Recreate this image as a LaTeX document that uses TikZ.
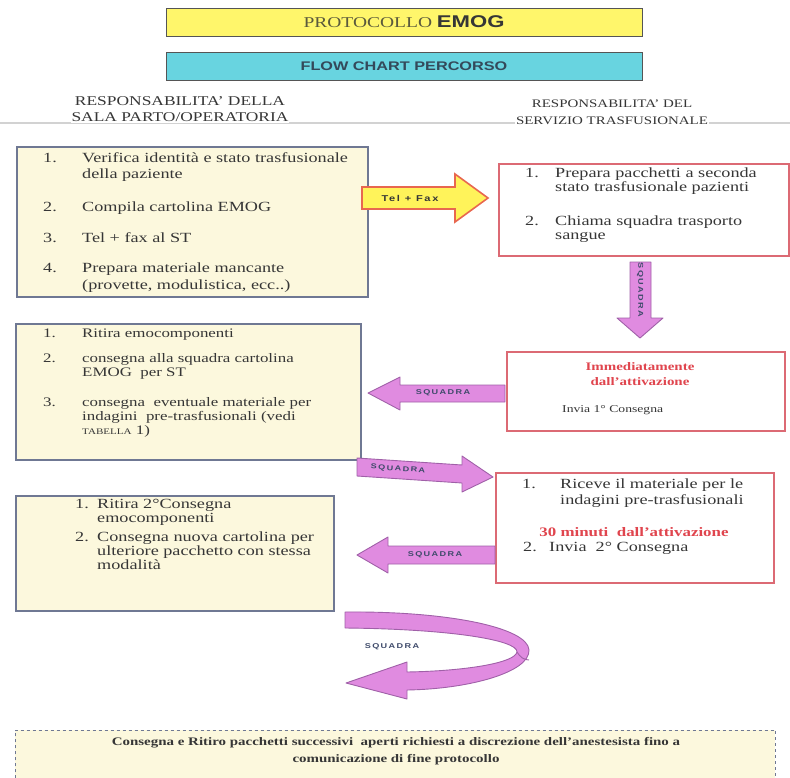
\documentclass[tikz,border=0pt]{standalone}
\usepackage{fontspec}
\setmainfont[FakeStretch=1.3]{Liberation Serif}
\newfontfamily\sansf[FakeStretch=1.3]{Liberation Sans}
\newfontfamily\sqfont[FakeStretch=1.3,LetterSpace=20]{Liberation Sans}
\usetikzlibrary{calc}
\definecolor{ttlyellow}{HTML}{FFF66B}
\definecolor{ttlcyan}{HTML}{68D4E0}
\definecolor{ttlborder}{HTML}{555555}
\definecolor{boxfill}{HTML}{FCF8DD}
\definecolor{lborder}{HTML}{6F7893}
\definecolor{rborder}{HTML}{DC6A74}
\definecolor{redtxt}{HTML}{E0454E}
\definecolor{pinkfill}{HTML}{E08BE0}
\definecolor{pinkdraw}{HTML}{A060A8}
\definecolor{arrowtxt}{HTML}{3E4A6A}
\definecolor{telfill}{HTML}{FFF35A}
\definecolor{teldraw}{HTML}{E8674F}
\definecolor{txtgray}{HTML}{363636}
\definecolor{olivetxt}{HTML}{5B5A3C}
\definecolor{flowtxt}{HTML}{34495A}
\begin{document}
\begin{tikzpicture}[x=1pt,y=-1pt,
  ttlbox/.style={draw=ttlborder, line width=1.2pt, anchor=north west, inner sep=0pt},
  lbox/.style={draw=lborder, line width=1.5pt, fill=boxfill, anchor=north west, inner sep=0pt},
  rbox/.style={draw=rborder, line width=1.5pt, fill=white, anchor=north west, inner sep=0pt},
  tx/.style={anchor=base west, inner sep=0pt, text=txtgray, font=\fontsize{14}{16}\selectfont},
  txl/.style={tx, font=\fontsize{13}{15}\selectfont},
  txs/.style={tx, font=\fontsize{10.5}{12}\selectfont},
  hdr/.style={align=center, inner sep=1pt, fill=white, text=txtgray},
  pinkarrow/.style={fill=pinkfill, draw=pinkdraw, line width=0.9pt, line join=round},
  telarrow/.style={fill=telfill, draw=teldraw, line width=1.6pt, line join=miter},
  sq/.style={inner sep=0pt, text=arrowtxt, font=\sqfont\bfseries\fontsize{7}{8}\selectfont}
]
\useasboundingbox (0,0) rectangle (790,777);

% titles
\node[ttlbox, fill=ttlyellow, minimum width=476pt, minimum height=28pt] (T1) at (166,8) {};
\node[inner sep=0pt, font=\fontsize{15}{16}\selectfont] (T1t) at (404,22)
  {\textcolor{olivetxt}{PROTOCOLLO} \textcolor{txtgray}{\sansf\bfseries\fontsize{17}{18}\selectfont EMOG}};
\node[ttlbox, fill=ttlcyan, minimum width=476pt, minimum height=28pt] (T2) at (166,52) {};
\node[inner sep=0pt, text=flowtxt, font=\sansf\bfseries\fontsize{12.5}{14}\selectfont] (T2t) at (404,66) {FLOW CHART PERCORSO};

% header line and headers
\coordinate (hl0) at (0,123);
\coordinate (hl1) at (790,123);
\draw[gray!35, line width=1.5pt] (hl0) -- (hl1);
\node[hdr, font=\fontsize{13.4}{16}\selectfont] (H1) at (180,109) {RESPONSABILITA' DELLA\\SALA PARTO/OPERATORIA};
\node[hdr, font=\fontsize{11.5}{17}\selectfont] (H2) at (612,112) {RESPONSABILITA' DEL\\SERVIZIO TRASFUSIONALE};

% boxes
\node[lbox, minimum width=351pt, minimum height=150pt] (L1) at (16,146) {};
\node[rbox, minimum width=290pt, minimum height=92pt] (R1) at (498,163) {};
\node[lbox, minimum width=345pt, minimum height=136pt] (L2) at (15,323) {};
\node[rbox, minimum width=278pt, minimum height=79pt] (R2) at (506,351) {};
\node[rbox, minimum width=278pt, minimum height=110pt] (R3) at (495,472) {};
\node[lbox, minimum width=318pt, minimum height=115pt] (L3) at (15,495) {};

% L1 text
\node[tx] (L1n1) at (43,162) {1.};
\node[tx] (L1a) at (82,162) {Verifica identità e stato trasfusionale};
\node[tx] (L1b) at (82,178) {della paziente};
\node[tx] (L1n2) at (43,211) {2.};
\node[tx] (L1c) at (82,211) {Compila cartolina EMOG};
\node[tx] (L1n3) at (43,242) {3.};
\node[tx] (L1d) at (82,242) {Tel + fax al ST};
\node[tx] (L1n4) at (43,272) {4.};
\node[tx] (L1e) at (82,272) {Prepara materiale mancante};
\node[tx] (L1f) at (82,289) {(provette, modulistica, ecc..)};

% R1 text
\node[tx] (R1n1) at (525,177) {1.};
\node[tx] (R1a) at (555,177) {Prepara pacchetti a seconda};
\node[tx] (R1b) at (555,191) {stato trasfusionale pazienti};
\node[tx] (R1n2) at (525,225) {2.};
\node[tx] (R1c) at (555,225) {Chiama squadra trasporto};
\node[tx] (R1d) at (555,239) {sangue};

% R2 text
\node[inner sep=0pt, align=center, text=redtxt, font=\bfseries\fontsize{11.5}{15}\selectfont] (R2t) at (640,374) {Immediatamente\\dall'attivazione};
\node[txs] (R2a) at (562,412) {Invia 1° Consegna};

% L2 text
\node[txl] (L2n1) at (43,337) {1.};
\node[txl] (L2a) at (82,337) {Ritira emocomponenti};
\node[txl] (L2n2) at (43,362) {2.};
\node[txl] (L2b) at (82,362) {consegna alla squadra cartolina};
\node[txl] (L2c) at (82,376) {EMOG\ \ per ST};
\node[txl] (L2n3) at (43,406) {3.};
\node[txl] (L2d) at (82,406) {consegna\ \ eventuale materiale per};
\node[txl] (L2e) at (82,420) {indagini\ \ pre-trasfusionali (vedi};
\node[txl] (L2f) at (82,434) {{\fontsize{8.5}{10}\selectfont TABELLA} 1)};

% R3 text
\node[tx] (R3n1) at (522,488) {1.};
\node[tx] (R3a) at (560,488) {Riceve il materiale per le};
\node[tx] (R3b) at (560,504) {indagini pre-trasfusionali};
\node[inner sep=0pt, anchor=base, text=redtxt, font=\bfseries\fontsize{13}{15}\selectfont] (R3t) at (634,536) {30 minuti\ \ dall'attivazione};
\node[tx] (R3n2) at (523,551) {2.};
\node[tx] (R3c) at (549,551) {Invia\ \ 2° Consegna};

% L3 text
\node[tx] (L3n1) at (75,508) {1.};
\node[tx] (L3a) at (97,508) {Ritira 2°Consegna};
\node[tx] (L3b) at (97,522) {emocomponenti};
\node[tx] (L3n2) at (75,541) {2.};
\node[tx] (L3c) at (97,541) {Consegna nuova cartolina per};
\node[tx] (L3d) at (97,555) {ulteriore pacchetto con stessa};
\node[tx] (L3e) at (97,569) {modalità};

% Tel + Fax arrow (L1 -> R1)
\draw[telarrow] (362,187) -- (455,187) -- (455,174) -- (488,198) -- (455,222) -- (455,209) -- (362,209) -- cycle;
\node[inner sep=0pt, text=txtgray, font=\sqfont\bfseries\fontsize{8.5}{10}\selectfont] (TF) at (410,198) {Tel + Fax};

% down arrow (R1 -> R2)
\draw[pinkarrow] (630,262) -- (651,262) -- (651,318) -- (663,318) -- (640,338) -- (617,318) -- (630,318) -- cycle;
\node[sq, rotate=-90] (SQ1) at (640,290) {SQUADRA};

% left arrow (R2 -> L2)
\draw[pinkarrow] (505,385) -- (400,385) -- (400,377) -- (368,393) -- (400,410) -- (400,402) -- (505,402) -- cycle;
\node[sq] (SQ2) at (443,393) {SQUADRA};

% right arrow (L2 -> R3)
\draw[pinkarrow] (357,458) -- (462,465) -- (462,456) -- (493,477) -- (462,492) -- (462,483) -- (357,476) -- cycle;
\node[sq, rotate=-3.8] (SQ3) at (398,469) {SQUADRA};

% left arrow (R3 -> L3)
\draw[pinkarrow] (495,546) -- (388,546) -- (388,537) -- (357,555) -- (388,573) -- (388,564) -- (495,564) -- cycle;
\node[sq] (SQ4) at (435,555) {SQUADRA};

% U-turn arrow
\draw[pinkarrow] (345,612) .. controls (450,611) and (528,628) .. (529,650)
  .. controls (530,672) and (470,689) .. (407,690)
  -- (407,699) -- (346,683) -- (407,662) -- (407,672)
  .. controls (465,671) and (515,663) .. (517,652)
  .. controls (518,640) and (450,629) .. (345,628) -- cycle;
\draw[pinkdraw, line width=0.9pt] (517,652) .. controls (520,657) and (524,660) .. (529,660);
\node[sq] (SQ5) at (392,647) {SQUADRA};

% bottom box
\node[fill=boxfill, anchor=north west, minimum width=760pt, minimum height=48pt, inner sep=0pt] (B) at (15,730) {};
\draw[lborder, line width=1pt, dashed] (B.south west) -- (B.north west) -- (B.north east) -- (B.south east);
\node[inner sep=0pt, align=center, text=txtgray, font=\bfseries\fontsize{11.5}{17}\selectfont] (Bt) at (396,751)
  {Consegna e Ritiro pacchetti successivi\ \ aperti richiesti a discrezione dell'anestesista fino a\\comunicazione di fine protocollo};
\end{tikzpicture}
\end{document}
